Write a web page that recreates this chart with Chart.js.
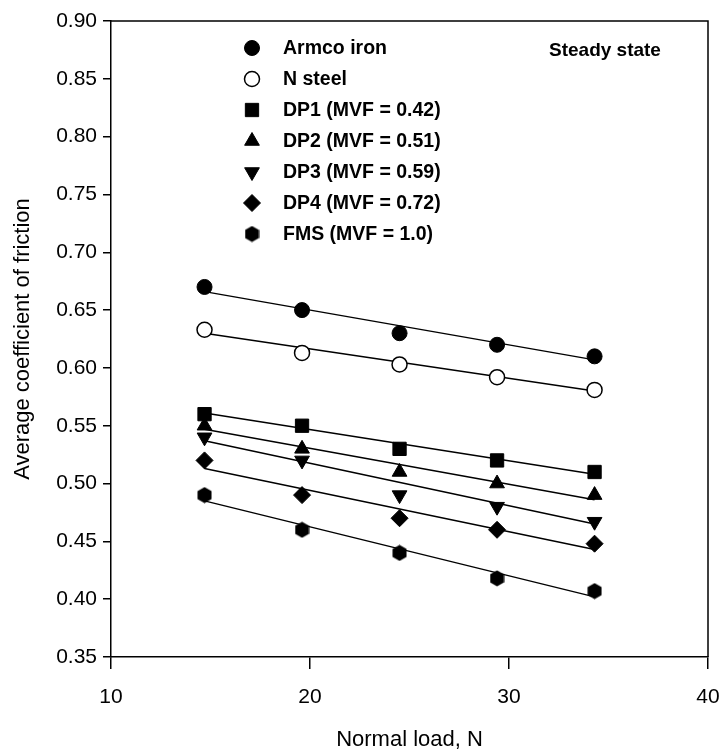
<!DOCTYPE html>
<html><head><meta charset="utf-8">
<script src="https://cdn.jsdelivr.net/npm/chart.js@4/dist/chart.umd.min.js"></script>
<style>html,body{margin:0;padding:0;background:#fff}canvas{display:block}</style>
</head><body>
<canvas id="c" width="723" height="753"></canvas>
<script>
// ---- data ----
const loads = [14.7, 19.6, 24.5, 29.4, 34.3];
const seriesNames = ['Armco iron', 'N steel', 'DP1 (MVF = 0.42)', 'DP2 (MVF = 0.51)', 'DP3 (MVF = 0.59)', 'DP4 (MVF = 0.72)', 'FMS (MVF = 1.0)'];
const armco  = [0.670, 0.650, 0.630, 0.620, 0.610];
const nSteel = [0.633, 0.613, 0.603, 0.592, 0.581];
const dp1    = [0.560, 0.550, 0.530, 0.520, 0.510];
const dp2    = [0.550, 0.530, 0.510, 0.500, 0.490];
const dp3    = [0.540, 0.520, 0.490, 0.480, 0.467];
const dp4    = [0.520, 0.490, 0.470, 0.460, 0.448];
const fms    = [0.490, 0.460, 0.440, 0.418, 0.407];
// regression lines (end points)
const fitLoads = [14.7, 34.3];
const armcoFit  = [0.666, 0.607];
const nSteelFit = [0.630, 0.580];
const dp1Fit    = [0.561, 0.508];
const dp2Fit    = [0.547, 0.486];
const dp3Fit    = [0.537, 0.465];
const dp4Fit    = [0.513, 0.443];
const fmsFit    = [0.485, 0.402];
const xTicks = [10, 20, 30, 40];
const yTicks = [0.35, 0.40, 0.45, 0.50, 0.55, 0.60, 0.65, 0.70, 0.75, 0.80, 0.85, 0.90];
const annotationText = 'Steady state';

// ---- styling ----
const FONT = '"Liberation Sans", Arial, Helvetica, sans-serif';
function makeHex(w, h) {
  const c = document.createElement('canvas');
  c.width = w; c.height = h;
  const g = c.getContext('2d');
  g.fillStyle = '#000';
  g.beginPath();
  g.moveTo(w / 2, 0.5);
  g.lineTo(w - 0.5, h * 0.27);
  g.lineTo(w - 0.5, h * 0.73);
  g.lineTo(w / 2, h - 0.5);
  g.lineTo(0.5, h * 0.73);
  g.lineTo(0.5, h * 0.27);
  g.closePath();
  g.fill();
  return c;
}
const hexImg = makeHex(15, 17);
const markerStyles = [
  {pointStyle: 'circle', radius: 7.5, rotation: 0, fill: '#000', bw: 1},
  {pointStyle: 'circle', radius: 7.5, rotation: 0, fill: '#fff', bw: 1.5},
  {pointStyle: 'rect', radius: 9.4, rotation: 0, fill: '#000', bw: 1},
  {pointStyle: 'triangle', radius: 8.5, rotation: 0, fill: '#000', bw: 1},
  {pointStyle: 'triangle', radius: 8.5, rotation: 180, fill: '#000', bw: 1},
  {pointStyle: 'rectRot', radius: 8.5, rotation: 0, fill: '#000', bw: 1},
  {pointStyle: hexImg, radius: 8, rotation: 0, fill: '#000', bw: 1}
];
const seriesValues = [armco, nSteel, dp1, dp2, dp3, dp4, fms];
const fitValues = [armcoFit, nSteelFit, dp1Fit, dp2Fit, dp3Fit, dp4Fit, fmsFit];

const datasets = [];
seriesValues.forEach((vals, i) => {
  const m = markerStyles[i];
  datasets.push({
    type: 'scatter',
    label: seriesNames[i],
    data: loads.map((x, j) => ({x: x, y: vals[j]})),
    showLine: false,
    pointStyle: m.pointStyle,
    pointRadius: m.radius,
    pointHoverRadius: m.radius,
    pointRotation: m.rotation,
    pointBackgroundColor: m.fill,
    pointBorderColor: '#000',
    pointBorderWidth: m.bw,
    order: 1
  });
});
fitValues.forEach((vals, i) => {
  datasets.push({
    type: 'line',
    label: seriesNames[i] + ' fit',
    data: fitLoads.map((x, j) => ({x: x, y: vals[j]})),
    borderColor: '#000',
    borderWidth: 1.4,
    pointRadius: 0,
    fill: false,
    tension: 0,
    order: 2
  });
});

const framePlugin = {
  id: 'frame',
  beforeDatasetsDraw(chart) {
    const a = chart.chartArea, ctx = chart.ctx;
    ctx.save();
    ctx.strokeStyle = '#000';
    ctx.lineWidth = 1.5;
    ctx.beginPath();
    ctx.moveTo(a.left, a.top); ctx.lineTo(a.right, a.top); ctx.lineTo(a.right, a.bottom);
    ctx.stroke();
    ctx.restore();
  },
  afterDraw(chart) {
    const ctx = chart.ctx;
    ctx.save();
    // legend inside plot
    const lx = 252, tx = 283, y0 = 48, dy = 31;
    seriesNames.forEach((name, i) => {
      const m = markerStyles[i];
      const y = y0 + i * dy;
      ctx.fillStyle = m.fill;
      ctx.strokeStyle = '#000';
      ctx.lineWidth = m.bw;
      Chart.helpers.drawPoint(ctx, {pointStyle: m.pointStyle, rotation: m.rotation, radius: m.radius, borderWidth: m.bw}, lx, y);
      ctx.fillStyle = '#000';
      ctx.font = 'bold 19.5px ' + FONT;
      ctx.textAlign = 'left';
      ctx.textBaseline = 'middle';
      ctx.fillText(name, tx, y + 1);
    });
    ctx.font = 'bold 19px ' + FONT;
    ctx.textAlign = 'left';
    ctx.textBaseline = 'middle';
    ctx.fillText(annotationText, 549, 51);
    ctx.restore();
  }
};

new Chart(document.getElementById('c'), {
  type: 'scatter',
  data: {datasets: datasets},
  options: {
    responsive: false,
    animation: false,
    devicePixelRatio: 1,
    layout: {padding: {top: 21, right: 15, bottom: 0, left: 10}},
    plugins: {legend: {display: false}, tooltip: {enabled: false}},
    scales: {
      x: {
        type: 'linear', min: 10, max: 40,
        afterBuildTicks: (s) => { s.ticks = xTicks.map(v => ({value: v})); },
        afterFit: (s) => { s.height = 96; s.paddingLeft = 0; s.paddingRight = 0; },
        ticks: {font: {family: FONT, size: 21}, color: '#000', padding: 16},
        grid: {drawOnChartArea: false, drawTicks: true, tickLength: 12, color: '#000', lineWidth: 1.5},
        border: {display: true, color: '#000', width: 1.5},
        title: {display: true, text: 'Normal load, N', font: {family: FONT, size: 22}, color: '#000', padding: {top: 0, bottom: 0}}
      },
      y: {
        type: 'linear', min: 0.35, max: 0.90,
        afterBuildTicks: (s) => { s.ticks = yTicks.map(v => ({value: v})); },
        afterFit: (s) => { s.width = 101; s.paddingTop = 0; s.paddingBottom = 0; },
        ticks: {font: {family: FONT, size: 21}, color: '#000', padding: 6, callback: (v) => Number(v).toFixed(2)},
        grid: {drawOnChartArea: false, drawTicks: true, tickLength: 8, color: '#000', lineWidth: 1.5},
        border: {display: true, color: '#000', width: 1.5},
        title: {display: true, text: 'Average coefficient of friction', font: {family: FONT, size: 22}, color: '#000', padding: {top: 0, bottom: 0}}
      }
    }
  },
  plugins: [framePlugin]
});
</script>
</body></html>
